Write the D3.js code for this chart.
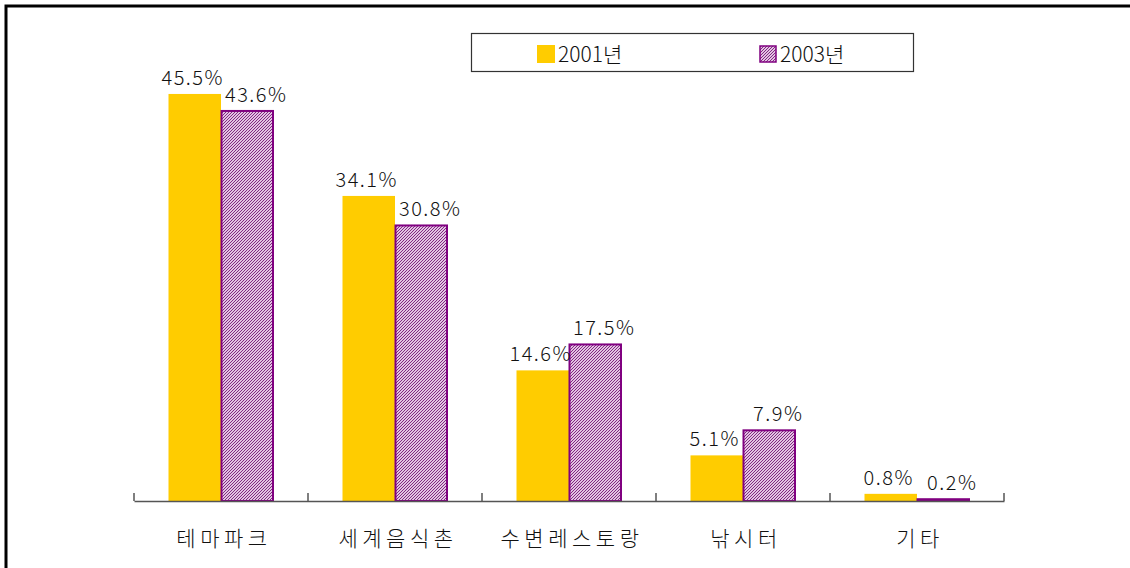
<!DOCTYPE html>
<html>
<head>
<meta charset="utf-8">
<script src="https://cdn.jsdelivr.net/npm/d3@7"></script>
<style>
  html, body { margin: 0; padding: 0; background: #fff; }
  svg { display: block; }
  text { font-family: "Noto Sans CJK KR", "DejaVu Sans", sans-serif; fill: #111; }
</style>
</head>
<body>
<svg id="chart" width="1130" height="568"></svg>
<script>
const categories = ["테마파크", "세계음식촌", "수변레스토랑", "낚시터", "기타"];
const seriesNames = ["2001년", "2003년"];
const values2001 = [45.5, 34.1, 14.6, 5.1, 0.8];
const values2003 = [43.6, 30.8, 17.5, 7.9, 0.2];

const svg = d3.select("#chart");
const W = 1130, H = 568;

// fine pixel diagonal hatch (////) for the 2003 series
const defs = svg.append("defs");
const pat = defs.append("pattern")
  .attr("id", "hatch")
  .attr("patternUnits", "userSpaceOnUse")
  .attr("width", 3).attr("height", 3);
pat.append("rect").attr("width", 3).attr("height", 3).attr("fill", "#e2c4e2");
[[0, 2], [1, 1], [2, 0]].forEach(([px, py]) => {
  pat.append("rect").attr("x", px).attr("y", py).attr("width", 1).attr("height", 1)
    .attr("fill", "#822882").attr("shape-rendering", "crispEdges");
});

// outer frame (top and left edges)
svg.append("path")
  .attr("d", `M6,${H} L6,6 L${W},6`)
  .attr("fill", "none").attr("stroke", "#000").attr("stroke-width", 3);

const x0 = d3.scaleBand().domain(categories).range([134, 1004]).padding(0);
const x1 = d3.scaleBand().domain(seriesNames).range([34.5, 139.5]).padding(0);
const y = d3.scaleLinear().domain([0, 50]).range([501, 53.7]);
const labelShift = { "2001년": -2, "2003년": 9 };

const rows = categories.map((c, i) => ({
  cat: c,
  vals: [
    { s: seriesNames[0], v: values2001[i] },
    { s: seriesNames[1], v: values2003[i] }
  ]
}));

const groups = svg.selectAll("g.cat").data(rows).join("g")
  .attr("class", "cat")
  .attr("transform", d => `translate(${x0(d.cat)},0)`);

groups.selectAll("rect").data(d => d.vals).join("rect")
  .attr("x", d => x1(d.s) + (d.s === seriesNames[1] ? 0.5 : 0))
  .attr("y", d => y(d.v))
  .attr("width", d => x1.bandwidth() - (d.s === seriesNames[1] ? 1 : 0))
  .attr("height", d => y(0) - y(d.v))
  .attr("fill", d => d.s === seriesNames[0] ? "#ffcc00" : "url(#hatch)")
  .attr("stroke", d => d.s === seriesNames[0] ? "none" : "#800080")
  .attr("stroke-width", 2);

groups.selectAll("text.val").data(d => d.vals).join("text")
  .attr("class", "val")
  .attr("x", d => x1(d.s) + x1.bandwidth() / 2 + labelShift[d.s])
  .attr("y", d => y(d.v) - 9)
  .attr("text-anchor", "middle")
  .attr("font-size", 20)
  .attr("font-weight", 300)
  .attr("letter-spacing", 1.5)
  .text(d => d.v.toFixed(1) + "%");

// category axis line
const gAxis = svg.append("g").attr("transform", "translate(0,501)")
  .call(d3.axisBottom(x0).tickSize(0).tickFormat(""));
gAxis.select(".domain").attr("stroke", "#555").attr("stroke-width", 1.5);

// category boundary ticks, pointing up
const edges = categories.map(c => x0(c)).concat([x0.range()[1]]);
svg.append("g").selectAll("line").data(edges).join("line")
  .attr("x1", d => d).attr("x2", d => d)
  .attr("y1", 493).attr("y2", 501)
  .attr("stroke", "#555").attr("stroke-width", 1.5);

svg.append("g").selectAll("text").data(categories).join("text")
  .attr("x", d => x0(d) + x0.bandwidth() / 2 + 3)
  .attr("y", 546)
  .attr("text-anchor", "middle")
  .attr("font-size", 21)
  .attr("font-weight", 300)
  .attr("letter-spacing", 4.5)
  .text(d => d);

// legend
const lg = svg.append("g");
lg.append("rect").attr("x", 471.5).attr("y", 33.5).attr("width", 442).attr("height", 38)
  .attr("fill", "#fff").attr("stroke", "#333").attr("stroke-width", 1.2);
const legendX = [537, 759];
seriesNames.forEach((s, i) => {
  lg.append("rect")
    .attr("x", legendX[i] + (i ? 1 : 0)).attr("y", 45 + (i ? 1 : 0))
    .attr("width", i ? 16 : 18).attr("height", i ? 16 : 18)
    .attr("fill", i ? "url(#hatch)" : "#ffcc00")
    .attr("stroke", i ? "#800080" : "none").attr("stroke-width", 1.5);
  lg.append("text").attr("x", legendX[i] + 21).attr("y", 62)
    .attr("font-size", 21).attr("font-weight", 300).text(s);
});
</script>
</body>
</html>
